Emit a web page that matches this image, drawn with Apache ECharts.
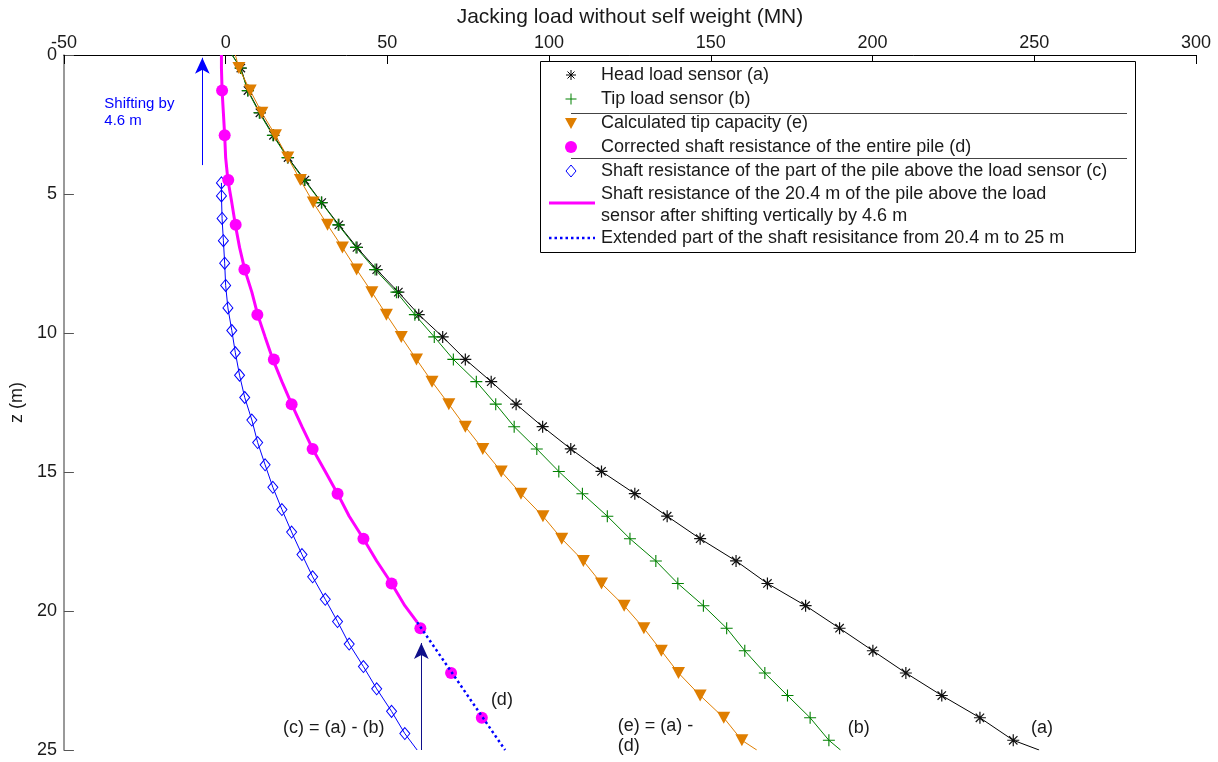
<!DOCTYPE html>
<html>
<head>
<meta charset="utf-8">
<title>Jacking load profile</title>
<script src="https://cdn.jsdelivr.net/npm/echarts@6/dist/echarts.min.js"></script>
<style>
  html, body { margin: 0; padding: 0; background: #fff; }
  #chart { width: 1218px; height: 762px; }
</style>
</head>
<body>
<div id="chart"></div>
<script>
// Depth samples (m) for the sensor records; first and last entries are the line ends (no marker)
const DEPTH = [0, 0.47, 1.28, 2.08, 2.89, 3.69, 4.50, 5.31, 6.11, 6.92, 7.72, 8.53, 9.34, 10.14, 10.95,
  11.75, 12.56, 13.37, 14.17, 14.98, 15.78, 16.59, 17.40, 18.20, 19.01, 19.81, 20.62, 21.43, 22.23,
  23.04, 23.84, 24.65, 25];
// (a) head load sensor, MN
const HEAD_LOAD = [2.0, 4.7, 6.9, 10.6, 14.8, 19.3, 24.5, 29.7, 35.0, 40.6, 46.7, 53.4, 59.7, 67.1, 74.1,
  82.1, 89.8, 98.0, 106.7, 116.2, 126.5, 136.5, 146.7, 157.8, 167.5, 179.3, 189.8, 200.1, 210.3,
  221.4, 233.2, 243.5, 251.5];
// (b) tip load sensor, MN
const TIP_LOAD = [2.0, 4.6, 6.8, 10.4, 14.6, 19.1, 24.3, 29.6, 34.8, 40.3, 46.2, 52.8, 58.5, 64.5, 70.4,
  77.5, 83.5, 89.2, 96.2, 103.0, 110.3, 118.0, 125.0, 133.0, 139.8, 147.7, 154.9, 160.5, 166.7,
  173.7, 180.7, 186.5, 190.1];
// (e) calculated tip capacity, MN
const TIP_CAPACITY = [3.0, 4.1, 7.6, 11.2, 15.4, 19.2, 23.1, 27.1, 31.5, 36.1, 40.5, 45.2, 49.7, 54.3, 59.0,
  63.8, 69.0, 74.1, 79.5, 85.2, 91.3, 98.1, 103.9, 110.6, 116.2, 123.2, 129.3, 134.7, 140.0,
  146.7, 154.0, 159.6, 164.2];

// (c) shaft resistance of the pile part above the load sensor; last entry is the line end (no marker)
const SHAFT_DEPTH = [4.60, 5.07, 5.88, 6.68, 7.49, 8.29, 9.10, 9.91, 10.71, 11.52, 12.32, 13.13, 13.94,
  14.74, 15.55, 16.35, 17.16, 17.97, 18.77, 19.58, 20.38, 21.19, 22.00, 22.80, 23.61, 24.41, 25.00];
const SHAFT_ABOVE_SENSOR = [-1.3, -1.3, -1.1, -0.7, -0.3, 0.0, 0.7, 1.9, 3.0, 4.3, 5.9, 8.1, 9.9,
  12.2, 14.6, 17.4, 20.4, 23.6, 26.9, 30.8, 34.6, 38.2, 42.6, 46.7, 51.3, 55.4, 59.2];
// vertical shift of the 20.4 m shaft curve (m)
const SHIFT = 4.6;

// (d) corrected shaft resistance of the entire pile
const CORR_DEPTH = [1.28, 2.89, 4.50, 6.11, 7.72, 9.34, 10.95, 12.56, 14.17, 15.78, 17.40, 19.01, 20.62, 22.23, 23.84];
const CORR_SHAFT = [-1.1, -0.3, 0.8, 3.1, 5.8, 9.8, 14.9, 20.4, 26.9, 34.6, 42.6, 51.3, 60.2, 69.7, 79.2];

// extension of the shaft resistance from 20.4 m to 25 m
const EXT_DEPTH = [20.4, 25];
const EXT_SHAFT = [59.2, 86.4];

// arrows: [x0, z0, x1, z1] (head at the second point)
const ARROWS = [[-7.2, 3.96, -7.2, 0.1], [60.5, 25, 60.5, 21.15]];

// text notes: anchor (top-left) in data units
const NOTE_TEXT = ['Shifting by\n4.6 m', '(c) = (a) - (b)', '(d)', '(e) = (a) -\n(d)', '(b)', '(a)'];
const NOTE_X = [-37.5, 17.7, 82.0, 121.2, 192.3, 249.0];
const NOTE_Z = [1.45, 23.84, 22.83, 23.77, 23.84, 23.84];

const FONT = '"Liberation Sans", Arial, Helvetica, sans-serif';
const C_BLACK = '#000000', C_GREEN = '#008000', C_ORANGE = '#DF7E00', C_MAGENTA = '#FF00FF', C_BLUE = '#0000FF';
const TEXT_COLOR = '#1a1a1a';

const ASTERISK = 'path://M5,0L5,10M0,5L10,5M1.5,1.5L8.5,8.5M1.5,8.5L8.5,1.5';
const PLUS = 'path://M5,0L5,10M0,5L10,5';

// line data with markers only on inner samples
function markedLine(xs, zs, markFirst) {
  return xs.map((x, i) => {
    const last = i === xs.length - 1;
    const first = i === 0;
    if (last || (first && !markFirst)) return { value: [x, zs[i]], symbol: 'none' };
    return [x, zs[i]];
  });
}

const chart = echarts.init(document.getElementById('chart'), null, { renderer: 'canvas' });

const series = [
  {
    name: 'Shaft resistance of the part of the pile above the load sensor (c)',
    type: 'line',
    data: markedLine(SHAFT_ABOVE_SENSOR, SHAFT_DEPTH, true),
    symbol: 'diamond', symbolSize: [10, 12],
    lineStyle: { color: C_BLUE, width: 1 },
    itemStyle: { color: 'rgba(0,0,0,0)', borderColor: C_BLUE, borderWidth: 1 },
    z: 2
  },
  {
    name: 'Shaft resistance of the 20.4 m of the pile above the load sensor after shifting vertically by 4.6 m',
    type: 'line',
    data: SHAFT_ABOVE_SENSOR.map((x, i) => [x, +(SHAFT_DEPTH[i] - SHIFT).toFixed(2)]),
    symbol: 'none',
    lineStyle: { color: C_MAGENTA, width: 3 },
    z: 3
  },
  {
    name: 'Corrected shaft resistance of the entire pile (d)',
    type: 'scatter',
    data: CORR_SHAFT.map((x, i) => [x, CORR_DEPTH[i]]),
    symbol: 'circle', symbolSize: 12,
    itemStyle: { color: C_MAGENTA, opacity: 1 },
    z: 4
  },
  {
    name: 'Extended part of the shaft resisitance from 20.4 m to 25 m',
    type: 'line',
    data: EXT_SHAFT.map((x, i) => [x, EXT_DEPTH[i]]),
    symbol: 'none',
    lineStyle: { color: C_BLUE, width: 2.5, type: [2.5, 3] },
    z: 5
  },
  {
    name: 'Head load sensor (a)',
    type: 'line',
    data: markedLine(HEAD_LOAD, DEPTH, false),
    symbol: ASTERISK, symbolSize: 12,
    lineStyle: { color: C_BLACK, width: 1 },
    itemStyle: { color: 'rgba(0,0,0,0)', borderColor: '#111', borderWidth: 1.2 },
    z: 6
  },
  {
    name: 'Tip load sensor (b)',
    type: 'line',
    data: markedLine(TIP_LOAD, DEPTH, false),
    symbol: PLUS, symbolSize: 12,
    lineStyle: { color: C_GREEN, width: 1 },
    itemStyle: { color: 'rgba(0,0,0,0)', borderColor: C_GREEN, borderWidth: 1.1 },
    z: 7
  },
  {
    name: 'Calculated tip capacity (e)',
    type: 'line',
    data: markedLine(TIP_CAPACITY, DEPTH, false),
    symbol: 'triangle', symbolSize: [13, 12], symbolRotate: 180,
    lineStyle: { color: C_ORANGE, width: 1 },
    itemStyle: { color: C_ORANGE },
    z: 8
  },
  {
    name: 'notes',
    type: 'scatter',
    symbolSize: 0,
    silent: true,
    z: 9,
    itemStyle: { opacity: 1 },
    data: NOTE_TEXT.map((t, i) => ({
      value: [NOTE_X[i], NOTE_Z[i]],
      label: i === 0
        ? { show: true, formatter: t, color: C_BLUE, fontSize: 15, lineHeight: 17 }
        : { show: true, formatter: t, color: TEXT_COLOR, fontSize: 18, lineHeight: 20 }
    })),
    label: { show: true, position: [0, 0], align: 'left', verticalAlign: 'top', fontFamily: FONT, opacity: 1 },
    markLine: {
      silent: true,
      symbol: ['none', 'arrow'],
      symbolSize: [11, 16],
      label: { show: false },
      lineStyle: { color: C_BLUE, width: 1, type: 'solid', opacity: 1 },
      data: ARROWS.map((a, i) => [
        { coord: [a[0], a[1]], lineStyle: { color: i === 0 ? C_BLUE : '#10108a' } },
        { coord: [a[2], a[3]] }
      ])
    }
  }
];

// legend box drawn as graphic elements
const LX = 540, LY = 61, LW = 595, LH = 191;
const IX = 571, TX = 601;
const legendRows = [
  { text: 'Head load sensor (a)', y: 75 },
  { text: 'Tip load sensor (b)', y: 99 },
  { text: 'Calculated tip capacity (e)', y: 123 },
  { text: 'Corrected shaft resistance of the entire pile (d)', y: 147 },
  { text: 'Shaft resistance of the part of the pile above the load sensor (c)', y: 171 },
  { text: 'Shaft resistance of the 20.4 m of the pile above the load\nsensor after shifting vertically by 4.6 m', y: 205 },
  { text: 'Extended part of the shaft resisitance from 20.4 m to 25 m', y: 238 }
];
const g = [];
g.push({ type: 'rect', shape: { x: LX + 0.5, y: LY + 0.5, width: LW, height: LH },
  style: { fill: '#fff', stroke: '#000', lineWidth: 1 } });
legendRows.forEach(r => {
  g.push({ type: 'text', x: TX, y: r.y, style: { text: r.text, font: '18px ' + FONT, fill: TEXT_COLOR,
    align: 'left', verticalAlign: 'middle', lineHeight: 22 } });
});
// separators
[113, 158].forEach(y => g.push({ type: 'line', shape: { x1: IX, y1: y + 0.5, x2: 1127, y2: y + 0.5 },
  style: { stroke: '#444', lineWidth: 1 } }));
// asterisk icon
[[0, -5, 0, 5], [-5, 0, 5, 0], [-3.5, -3.5, 3.5, 3.5], [-3.5, 3.5, 3.5, -3.5]].forEach(s =>
  g.push({ type: 'line', shape: { x1: IX + s[0], y1: 75 + s[1], x2: IX + s[2], y2: 75 + s[3] },
    style: { stroke: C_BLACK, lineWidth: 1 } }));
// plus icon
[[0, -5.5, 0, 5.5], [-5.5, 0, 5.5, 0]].forEach(s =>
  g.push({ type: 'line', shape: { x1: IX + s[0], y1: 99 + s[1], x2: IX + s[2], y2: 99 + s[3] },
    style: { stroke: C_GREEN, lineWidth: 1 } }));
g.push({ type: 'polygon', shape: { points: [[IX - 6, 118], [IX + 6, 118], [IX, 129]] }, style: { fill: C_ORANGE } });
g.push({ type: 'circle', shape: { cx: IX, cy: 147, r: 6 }, style: { fill: C_MAGENTA } });
g.push({ type: 'polygon', shape: { points: [[IX, 165], [IX + 5, 171], [IX, 177], [IX - 5, 171]] },
  style: { fill: 'none', stroke: C_BLUE, lineWidth: 1 } });
g.push({ type: 'line', shape: { x1: 549, y1: 203, x2: 595, y2: 203 }, style: { stroke: C_MAGENTA, lineWidth: 3 } });
g.push({ type: 'line', shape: { x1: 549, y1: 238, x2: 595, y2: 238 },
  style: { stroke: C_BLUE, lineWidth: 2.5, lineDash: [2.5, 3] } });
g.forEach(e => { e.z = 100; e.silent = true; });

const option = {
  animation: false,
  backgroundColor: '#ffffff',
  textStyle: { fontFamily: FONT },
  grid: { left: 60, top: 55, right: 22, bottom: 12, containLabel: false },
  xAxis: {
    type: 'value', position: 'top', min: -50, max: 300, interval: 50,
    name: 'Jacking load without self weight (MN)', nameLocation: 'middle', nameGap: 27,
    nameTextStyle: { fontSize: 21, color: TEXT_COLOR, fontFamily: FONT },
    axisLine: { show: true, onZero: false, lineStyle: { color: '#000', width: 1 } },
    axisTick: { show: true, inside: true, length: 9, lineStyle: { color: '#000' } },
    axisLabel: { fontSize: 18, color: TEXT_COLOR, margin: 3, fontFamily: FONT, showMinLabel: true, showMaxLabel: true },
    splitLine: { show: false }
  },
  yAxis: {
    type: 'value', inverse: true, min: 0, max: 25, interval: 5,
    name: 'z (m)', nameLocation: 'middle', nameGap: 33, nameRotate: 90,
    nameTextStyle: { fontSize: 18, color: TEXT_COLOR, fontFamily: FONT },
    axisLine: { show: true, onZero: false, lineStyle: { color: '#777', width: 1.5 } },
    axisTick: { show: true, inside: true, length: 10, lineStyle: { color: '#555' } },
    axisLabel: { fontSize: 18, color: TEXT_COLOR, margin: 7, fontFamily: FONT, showMinLabel: true, showMaxLabel: true },
    splitLine: { show: false }
  },
  series: series,
  graphic: { elements: g }
};

chart.setOption(option);
</script>
</body>
</html>
